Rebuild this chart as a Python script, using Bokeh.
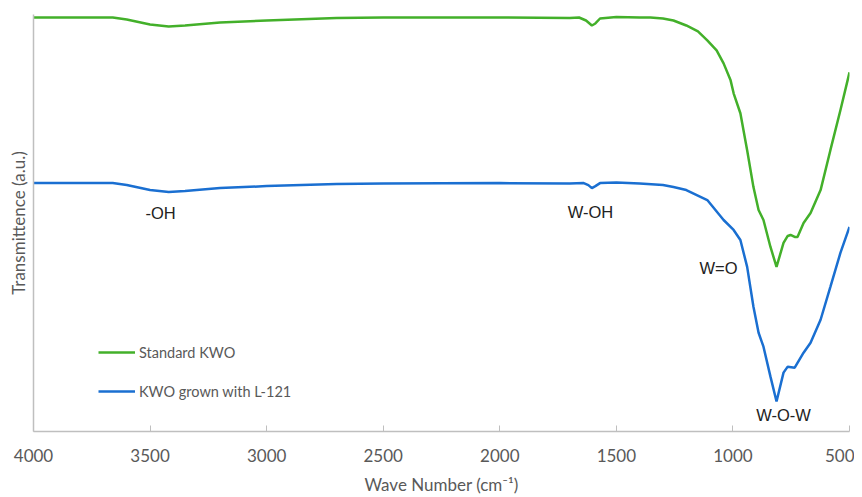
from bokeh.plotting import figure
from bokeh.models import Range1d, FixedTicker, Legend, LegendItem
from bokeh.core.properties import value
from bokeh.embed import file_html
from bokeh.resources import INLINE

# Standard KWO (green)
wn_std = [4000, 3800, 3660, 3600, 3500, 3420, 3350, 3200, 3000, 2700, 2500, 2000, 1700, 1660, 1630,
          1605, 1590, 1570, 1500, 1400, 1354, 1300, 1255, 1200, 1150, 1110, 1070, 1040, 1010, 997,
          968, 939, 912, 890, 869, 839, 813, 783, 765, 753, 735, 723, 697, 667, 624, 582, 539, 500]
t_std = [415, 415, 415, 413, 408, 406, 407, 410, 412, 414.5, 415, 415, 414.5, 415, 412,
         407, 409, 414, 415.5, 415, 415, 414, 412, 407, 401, 392, 382, 369, 352, 339,
         319, 282, 245, 222, 212, 185, 165, 189, 196, 197, 195, 195, 209, 219, 242, 282, 322, 360]

# KWO grown with L-121 (blue)
wn_l121 = [4000, 3800, 3660, 3600, 3500, 3420, 3350, 3200, 3000, 2700, 2500, 2000, 1700, 1640, 1620,
           1605, 1590, 1570, 1500, 1400, 1300, 1255, 1200, 1110, 1040, 997, 968, 939, 912, 890,
           869, 839, 813, 783, 765, 735, 697, 667, 624, 582, 539, 500]
t_l121 = [249, 249, 249, 247, 242, 240, 241, 244, 246, 248, 248.5, 249, 248.5, 249, 247,
          244, 246, 249, 249.5, 248.5, 247, 245, 242, 232, 212, 202, 192, 165, 125, 99,
          85, 55, 30, 59, 65, 64, 79, 89, 112, 145, 179, 205]

x_ticks = [4000, 3500, 3000, 2500, 2000, 1500, 1000, 500]

ann_text = ["-OH", "W-OH", "W=O", "W-O-W"]
ann_x = [3455, 1611, 1062, 783]
ann_y = [219, 220, 164, 17]

GREEN = "#43b02a"
BLUE = "#1a6fd1"
GRAY = "#595959"

p = figure(width=854, height=497, output_backend="svg", toolbar_location=None,
           x_range=Range1d(4000, 500), y_range=Range1d(0, 418),
           min_border_left=33, min_border_right=5, min_border_top=14, min_border_bottom=65)
p.outline_line_color = None
p.xgrid.visible = False
p.ygrid.visible = False

r1 = p.line(wn_std, t_std, line_color=GREEN, line_width=2.5)
r2 = p.line(wn_l121, t_l121, line_color=BLUE, line_width=2.5)

p.text(x=ann_x, y=ann_y, text=ann_text, text_align="center", text_baseline="middle",
       text_font=value("Liberation Sans"), text_font_size="16.5px", text_color="#222222")

xa = p.xaxis[0]
xa.ticker = FixedTicker(ticks=x_ticks)
xa.minor_tick_line_color = None
xa.major_tick_in = 6
xa.major_tick_out = 0
xa.axis_line_color = "#bfbfbf"
xa.major_tick_line_color = "#bfbfbf"
xa.axis_line_width = 1.5
xa.major_label_standoff = 17
xa.major_label_text_font = "Lato"
xa.major_label_text_font_size = "17px"
xa.major_label_text_color = GRAY
xa.axis_label = "Wave Number (cm⁻¹)"
xa.axis_label_text_font = "Lato"
xa.axis_label_text_font_style = "normal"
xa.axis_label_text_font_size = "17px"
xa.axis_label_text_color = GRAY
xa.axis_label_standoff = 9

ya = p.yaxis[0]
ya.ticker = FixedTicker(ticks=[])
ya.minor_tick_line_color = None
ya.major_tick_line_color = None
ya.axis_line_color = "#bfbfbf"
ya.axis_line_width = 1.5
ya.major_label_standoff = 0
ya.axis_label = "Transmittence (a.u.)"
ya.axis_label_text_font = "Lato"
ya.axis_label_text_font_style = "normal"
ya.axis_label_text_font_size = "17px"
ya.axis_label_text_color = GRAY
ya.axis_label_standoff = 5

legend = Legend(items=[LegendItem(label="Standard KWO", renderers=[r1]),
                       LegendItem(label="KWO grown with L-121", renderers=[r2])],
                location=(65, 30), orientation="vertical", spacing=19, padding=0, margin=0,
                glyph_width=37, glyph_height=20, label_height=20, label_standoff=4,
                label_text_font="Lato", label_text_font_size="14.5px", label_text_color=GRAY,
                border_line_color=None, background_fill_alpha=0)
p.add_layout(legend)

open("out.html", "w").write(file_html(p, INLINE))
